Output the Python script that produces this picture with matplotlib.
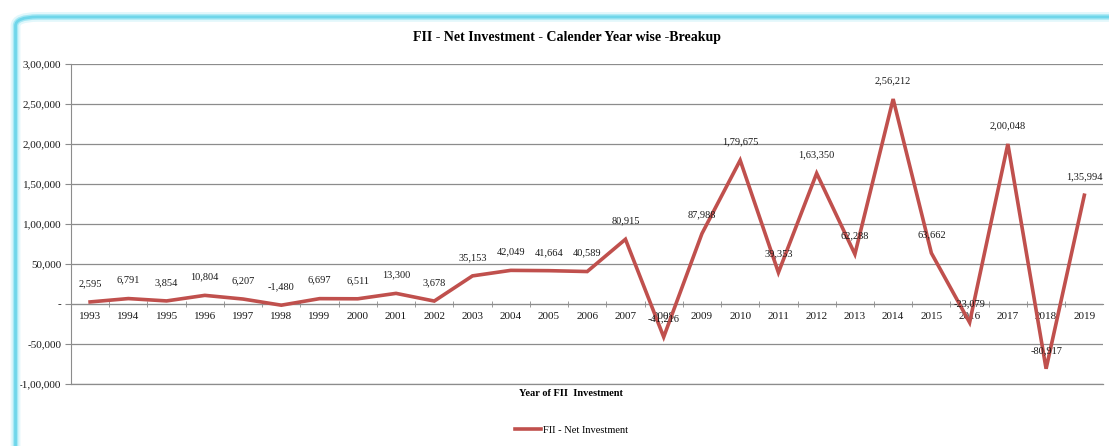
import matplotlib.pyplot as plt
from matplotlib.patches import FancyBboxPatch
from matplotlib.lines import Line2D

years = [str(y) for y in range(1993, 2020)]
net_investment = [2595, 6791, 3854, 10804, 6207, -1480, 6697, 6511, 13300, 3678,
                  35153, 42049, 41664, 40589, 80915, -41216, 87988, 179675, 39353,
                  163350, 62288, 256212, 63662, -23079, 200048, -80917, 135994]
y_ticks = [-100000, -50000, 0, 50000, 100000, 150000, 200000, 250000, 300000]


def indian(n):
    # Indian digit grouping: 2,56,212
    if n == 0:
        return "-"
    sign = "-" if n < 0 else ""
    s = str(abs(int(n)))
    if len(s) <= 3:
        return sign + s
    head, tail = s[:-3], s[-3:]
    groups = []
    while len(head) > 2:
        groups.insert(0, head[-2:])
        head = head[:-2]
    if head:
        groups.insert(0, head)
    return sign + ",".join(groups + [tail])


plt.rcParams['font.family'] = ['Liberation Serif', 'DejaVu Serif']
red = '#C0504D'
grid = '#8C8C8C'
txt = '#1a1a1a'

fig = plt.figure(figsize=(11.09, 4.46), dpi=100)

# rounded cyan frame
for lw, col in [(7, '#E2F7FB'), (4, '#A6E8F4'), (2, '#6FD6EA')]:
    fig.patches.append(FancyBboxPatch((0.014, -0.05), 1.05, 1.012,
                                      boxstyle="round,pad=0,rounding_size=0.02",
                                      transform=fig.transFigure, facecolor='none',
                                      edgecolor=col, linewidth=lw, zorder=0))

ax = fig.add_axes([0.064, 0.139, 0.931, 0.7175])
x = list(range(len(years)))
ax.plot(x, net_investment, color=red, lw=2.6, solid_joinstyle='miter', zorder=3)

for xi, v in zip(x, net_investment):
    ax.annotate(indian(v), (xi, v), xytext=(0, 10), textcoords='offset points',
                ha='center', va='bottom', fontsize=7.5, color=txt, zorder=4)

ax.set_xlim(-0.5, len(years) - 0.5)
ax.set_ylim(-100000, 300000)
ax.set_yticks(y_ticks)
ax.set_yticklabels([indian(t) for t in y_ticks])
ax.yaxis.grid(True, color=grid, lw=0.9)
ax.axhline(-100000, color=grid, lw=0.9, clip_on=False, zorder=1)
ax.set_axisbelow(True)

ax.set_xticks(x)
ax.set_xticklabels(years)
ax.set_xticks([i + 0.5 for i in x[:-1]], minor=True)
ax.tick_params(axis='x', which='major', length=0, pad=6, labelsize=8, labelcolor=txt)
ax.tick_params(axis='x', which='minor', length=4, direction='inout', color=grid)
ax.tick_params(axis='y', length=4, color=grid, pad=3, labelsize=8, labelcolor=txt)

ax.spines['bottom'].set_position(('data', 0))
ax.spines['bottom'].set_color(grid)
ax.spines['left'].set_color(grid)
ax.spines['top'].set_visible(False)
ax.spines['right'].set_visible(False)

fig.text(0.511, 0.915, "FII - Net Investment - Calender Year wise -Breakup",
         ha='center', va='center', fontsize=10, fontweight='bold')
fig.text(0.515, 0.118, "Year of FII  Investment", ha='center', va='center',
         fontsize=7.5, fontweight='bold')

handle = Line2D([], [], color=red, lw=2.6)
fig.legend([handle], ["FII - Net Investment"], loc='center',
           bbox_to_anchor=(0.515, 0.036), frameon=False, fontsize=7.5,
           handlelength=2.5, handletextpad=0.2)

fig.savefig("out.png", dpi=100)
